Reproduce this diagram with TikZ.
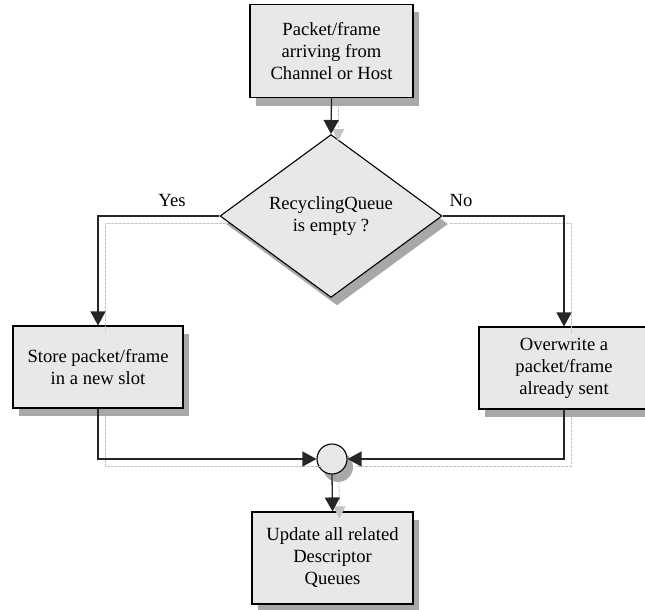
\documentclass[tikz,border=0pt]{standalone}
\usepackage{fontspec}
\setmainfont{Liberation Serif}
\usetikzlibrary{shapes.geometric,arrows.meta,shadows}
\definecolor{boxgray}{HTML}{E8E8E8}
\definecolor{shadegray}{HTML}{A8A8A8}
\definecolor{lineshade}{HTML}{C4C4C4}
\begin{document}
\begin{tikzpicture}[x=1pt,y=-1pt,
  shade/.style={drop shadow={shadow xshift=6pt,shadow yshift=-8pt,fill=shadegray,opacity=1}},
  box/.style={draw=black,line width=1.1pt,fill=boxgray,align=center,
    font=\fontsize{18.6}{22}\selectfont,inner sep=0pt,shade},
  decision/.style={diamond,draw=black,line width=1.1pt,fill=boxgray,align=center,
    font=\fontsize{18.6}{22}\selectfont,inner sep=0pt,shade},
  joint/.style={circle,draw=black,line width=1.1pt,fill=boxgray,minimum size=30pt,inner sep=0pt,shade},
  flow/.style={draw=black!85,line width=1.3pt,-{Triangle[width=15pt,length=14pt]}},
  ghost/.style={draw=lineshade,line width=0.8pt,dash pattern=on 3pt off 1pt,
    transform canvas={shift={(7pt,-7pt)}}},
  ghostarrow/.style={ghost,-{Triangle[width=12pt,length=12pt]}},
  lbl/.style={font=\fontsize{18.6}{22}\selectfont}]
\useasboundingbox (0,0) rectangle (645,610);

% process steps
\node[box,minimum width=163pt,minimum height=93pt] (src) at (331.5,51)
  {Packet/frame\\arriving from\\Channel or Host};
\node[decision,minimum width=222pt,minimum height=146pt] (test) at (331,216)
  {RecyclingQueue\\is empty ?};
\node[box,minimum width=170pt,minimum height=82pt] (store) at (98,367)
  {Store packet/frame\\in a new slot};
\node[box,minimum width=170pt,minimum height=82pt] (over) at (564,368)
  {Overwrite a\\packet/frame\\already sent};
\node[joint] (merge) at (332,459) {};
\node[box,minimum width=161pt,minimum height=92pt] (upd) at (332.5,558)
  {Update all related\\Descriptor\\Queues};

% branch labels
\node[lbl] (yes) at (172,200) {Yes};
\node[lbl] (no) at (461,200) {No};

% faint offset traces under the connectors
\draw[ghostarrow] (src.south) -- (test.north);
\draw[ghost] (test.west) -| (store.north);
\draw[ghost] (test.east) -| (over.north);
\draw[ghost] (store.south) |- (merge.west);
\draw[ghost] (over.south) |- (merge.east);
\draw[ghostarrow] (merge.south) -- (upd.north);

% connectors
\draw[flow] (src.south) -- (test.north);
\draw[flow] (test.west) -| (store.north);
\draw[flow] (test.east) -| (over.north);
\draw[flow] (store.south) |- (merge.west);
\draw[flow] (over.south) |- (merge.east);
\draw[flow] (merge.south) -- (upd.north);
\end{tikzpicture}
\end{document}
